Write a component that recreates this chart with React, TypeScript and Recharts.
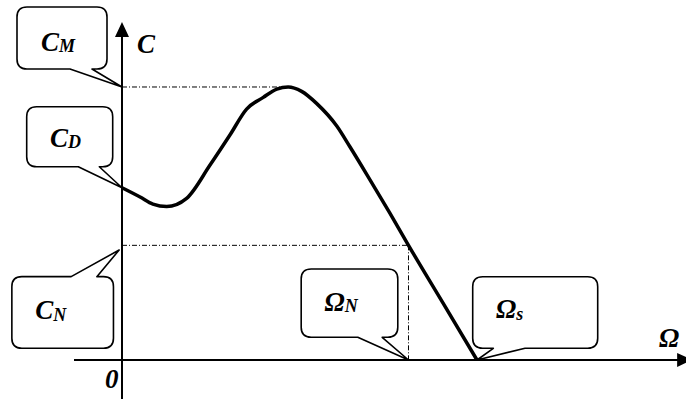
import React from 'react';
import { LineChart, Line, XAxis, YAxis, ReferenceLine, ReferenceDot } from 'recharts';

// speed (Omega) and torque (C), scaled so Omega_s = 100 and C_M = 100
const omega = [0, 5.1, 8.7, 12.6, 18.2, 24.8, 30.4, 35.1, 39.8, 43.6, 46.8, 50.6, 54.8, 60.5, 64.2, 69.9, 75.5, 80.7, 90.4, 100];
const torque = [63.1, 59.7, 57.1, 56.2, 59.2, 71.4, 82.4, 91.9, 96.2, 99.2, 100, 98.4, 94.0, 85.7, 78.1, 65.9, 53.7, 42, 20.9, 0];

const C_M = 100;
const C_D = 63.1;
const C_N = 42;
const OMEGA_M = 46.8;
const OMEGA_N = 80.7;
const OMEGA_S = 100;

const X_DOMAIN = [-13.52, 158.87];
const Y_DOMAIN = [-14.29, 123.81];

const data = omega.map((o, i) => ({ omega: o, c: torque[i] }));

const textStyle = {
  fontFamily: '"Liberation Serif", "Times New Roman", serif',
  fontWeight: 'bold',
  fontStyle: 'italic',
} as const;

type Callout = {
  main: string;
  sub: string;
  at: { x: number; y: number };
  box: [number, number, number, number];
  tail: [number, number];
  top?: boolean;
  text: [number, number];
};

const callouts: Callout[] = [
  { main: 'C', sub: 'M', at: { x: 0, y: C_M }, box: [-105, -80, -15, -18], tail: [-52, -30], text: [-81, -36] },
  { main: 'C', sub: 'D', at: { x: 0, y: C_D }, box: [-95.3, -81, -9.3, -21], tail: [-43.7, -22.7], text: [-72, -41] },
  { main: 'C', sub: 'N', at: { x: -0.8, y: 40.3 }, box: [-107.3, 26.7, -5.7, 98.3], tail: [-48, -22.3], top: true, text: [-84, 69.5] },
  { main: 'Ω', sub: 'N', at: { x: OMEGA_N, y: 0 }, box: [-107.3, -91, -10.7, -22.7], tail: [-50.7, -26.3], text: [-84, -49.3] },
  { main: 'Ω', sub: 's', at: { x: OMEGA_S, y: 0 }, box: [-4.3, -83.3, 120.7, -11.7], tail: [16.3, 48], text: [19, -41.7] },
];

const calloutPath = (c: Callout) => {
  const [x0, y0, x1, y1] = c.box;
  const [a, b] = c.tail;
  const r = 10;
  if (c.top) {
    return `M${x0 + r},${y0} H${a} L0,0 L${b},${y0} H${x1 - r} Q${x1},${y0} ${x1},${y0 + r} V${y1 - r} Q${x1},${y1} ${x1 - r},${y1} H${x0 + r} Q${x0},${y1} ${x0},${y1 - r} V${y0 + r} Q${x0},${y0} ${x0 + r},${y0} Z`;
  }
  return `M${x0 + r},${y0} H${x1 - r} Q${x1},${y0} ${x1},${y0 + r} V${y1 - r} Q${x1},${y1} ${x1 - r},${y1} H${b} L0,0 L${a},${y1} H${x0 + r} Q${x0},${y1} ${x0},${y1 - r} V${y0 + r} Q${x0},${y0} ${x0 + r},${y0} Z`;
};

const CalloutShape = (c: Callout) => (props: any) => {
  const { cx, cy } = props;
  return (
    <g transform={`translate(${cx},${cy})`}>
      <path d={calloutPath(c)} fill="#fff" stroke="#000" strokeWidth={1.6} strokeLinejoin="round" />
      <text x={c.text[0]} y={c.text[1]} style={{ ...textStyle, fontSize: 27 }} fill="#000">
        <tspan>{c.main}</tspan>
        <tspan style={{ fontSize: 18 }} dy={1.5}>{c.sub}</tspan>
      </text>
    </g>
  );
};

const TextShape = (label: string, dx: number, dy: number) => (props: any) => (
  <text x={props.cx + dx} y={props.cy + dy} style={{ ...textStyle, fontSize: 27 }} fill="#000">
    {label}
  </text>
);

const ArrowLine = (dir: 'up' | 'right') => (props: any) => {
  const { x1, y1, x2, y2 } = props;
  const head =
    dir === 'up'
      ? `M${x2},${y2} L${x2 - 7},${y2 + 15} L${x2 + 7},${y2 + 15} Z`
      : `M${x2},${y2} L${x2 - 15},${y2 - 7} L${x2 - 15},${y2 + 7} Z`;
  return (
    <g>
      <line x1={x1} y1={y1} x2={dir === 'up' ? x2 : x2 - 10} y2={dir === 'up' ? y2 + 10 : y2} stroke="#000" strokeWidth={2} />
      <path d={head} fill="#000" />
    </g>
  );
};

const dash = '5 2 1 2';

export default function App() {
  return (
    <div style={{ position: 'absolute', left: 0, top: 0, width: 686, height: 399, background: '#fff' }}>
      <LineChart width={686} height={399} data={data} margin={{ top: 22, right: 0, bottom: 0, left: 74 }}>
        <XAxis dataKey="omega" type="number" domain={X_DOMAIN} allowDataOverflow hide />
        <YAxis type="number" domain={Y_DOMAIN} allowDataOverflow hide />

        <ReferenceLine segment={[{ x: 0, y: C_M }, { x: OMEGA_M, y: C_M }]} stroke="#000" strokeWidth={1} strokeDasharray={dash} ifOverflow="visible" />
        <ReferenceLine segment={[{ x: 0, y: C_N }, { x: OMEGA_N, y: C_N }]} stroke="#000" strokeWidth={1} strokeDasharray={dash} ifOverflow="visible" />
        <ReferenceLine segment={[{ x: OMEGA_N, y: C_N }, { x: OMEGA_N, y: 0 }]} stroke="#000" strokeWidth={1} strokeDasharray={dash} ifOverflow="visible" />

        <ReferenceLine segment={[{ x: X_DOMAIN[0], y: 0 }, { x: 160.6, y: 0 }]} shape={ArrowLine('right')} ifOverflow="visible" />
        <ReferenceLine segment={[{ x: 0, y: Y_DOMAIN[0] }, { x: 0, y: Y_DOMAIN[1] }]} shape={ArrowLine('up')} ifOverflow="visible" />

        <Line dataKey="c" type="monotone" stroke="#000" strokeWidth={3.5} dot={false} isAnimationActive={false} />

        {callouts.map((c, i) => (
          <ReferenceDot key={i} x={c.at.x} y={c.at.y} r={1} shape={CalloutShape(c)} ifOverflow="visible" />
        ))}

        <ReferenceDot x={0} y={Y_DOMAIN[1]} r={1} shape={TextShape('C', 15, 31)} ifOverflow="visible" />
        <ReferenceDot x={0} y={0} r={1} shape={TextShape('0', -17, 28)} ifOverflow="visible" />
        <ReferenceDot x={X_DOMAIN[1]} y={0} r={1} shape={TextShape('Ω', -27, -13)} ifOverflow="visible" />
      </LineChart>
    </div>
  );
}
